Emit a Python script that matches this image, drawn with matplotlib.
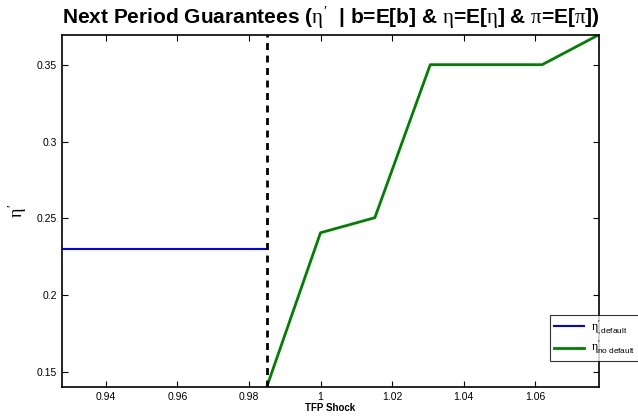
import matplotlib
matplotlib.use("Agg")
import matplotlib.pyplot as plt

plt.rcParams["font.family"] = ["Liberation Sans", "DejaVu Sans"]
plt.rcParams["mathtext.fontset"] = "custom"
plt.rcParams["mathtext.rm"] = "Liberation Serif"
plt.rcParams["mathtext.it"] = "Liberation Serif"
plt.rcParams["mathtext.sf"] = "Liberation Sans"

# TFP grid points and next-period guarantees
tfp_default = [0.9277, 0.985]
eta_default = [0.23, 0.23]

tfp_nodefault = [0.985, 1.0, 1.0152, 1.0307, 1.062, 1.0779]
eta_nodefault = [0.1406, 0.2407, 0.2505, 0.35, 0.35, 0.3695]

threshold = 0.985

fig = plt.figure(figsize=(6.38, 4.17), dpi=100)
ax = fig.add_axes([0.0972, 0.0727, 0.8417, 0.8441])

ax.plot(tfp_default, eta_default, color=(0, 0, 1), lw=1.5,
        label=r"$\eta^{\prime}_{\mathsf{,default}}$")
ax.plot(tfp_nodefault, eta_nodefault, color=(0, 0.5, 0), lw=2,
        label=r"$\eta^{\prime}_{\mathsf{no\ default}}$")
ax.axvline(threshold, color="k", ls="--", lw=2, dashes=(2.5, 2))

ax.set_xlim(0.9277, 1.0779)
ax.set_ylim(0.1406, 0.3695)
ax.set_xticks([0.94, 0.96, 0.98, 1.0, 1.02, 1.04, 1.06])
ax.set_xticklabels(["0.94", "0.96", "0.98", "1", "1.02", "1.04", "1.06"])
ax.set_yticks([0.15, 0.2, 0.25, 0.3, 0.35])
ax.set_yticklabels(["0.15", "0.2", "0.25", "0.3", "0.35"])
ax.tick_params(direction="in", top=True, right=True, labelsize=7.5, length=4, width=0.8)
for s in ax.spines.values():
    s.set_linewidth(1.2)

ax.set_title(r"Next Period Guarantees ($\eta^{\prime}$  | b=E[b] & $\eta$=E[$\eta$] & $\pi$=E[$\pi$])",
             fontsize=15, fontweight="bold", pad=8)
ax.set_xlabel("TFP Shock", fontsize=7, fontweight="bold", labelpad=1)
ax.set_ylabel(r"$\eta^{\prime}$", fontsize=13, labelpad=6)

leg = ax.legend(loc="lower left", bbox_to_anchor=(550 / 638, 1 - 361 / 417),
                bbox_transform=fig.transFigure, fontsize=8.5, frameon=True,
                fancybox=False, edgecolor="k", handlelength=2.6,
                borderpad=0.3, labelspacing=0.2, borderaxespad=0, handletextpad=0.6)
leg.get_frame().set_linewidth(0.8)

fig.savefig("out.png", dpi=100)
